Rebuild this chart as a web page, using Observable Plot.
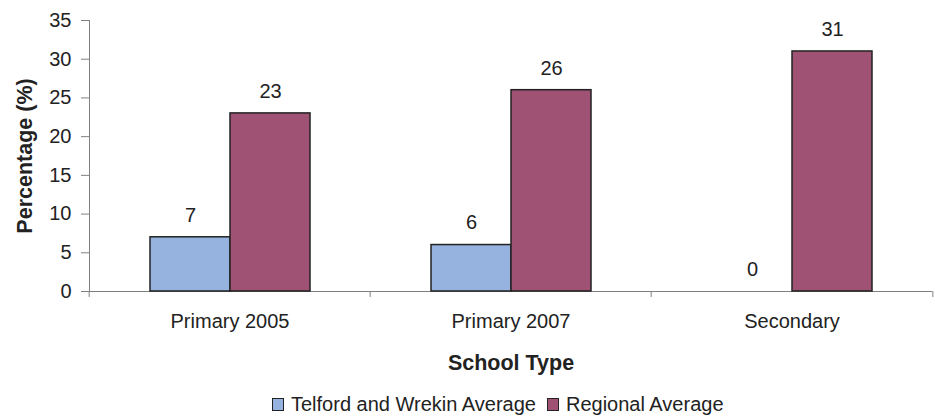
<!DOCTYPE html>
<html>
<head>
<meta charset="utf-8">
<script src="https://cdn.jsdelivr.net/npm/d3@7"></script>
<script src="https://cdn.jsdelivr.net/npm/@observablehq/plot@0.6"></script>
<style>
  html, body { margin: 0; padding: 0; background: #fff; }
  body { width: 935px; height: 416px; overflow: hidden; font-family: "Liberation Sans", Arial, sans-serif; color: #222; }
  #legend { display: flex; align-items: center; height: 23px; padding-left: 272px; font-size: 20px; line-height: 23px; }
  #legend .item { display: flex; align-items: center; margin-right: 11px; }
  #legend .sw { width: 10px; height: 11px; border: 1.5px solid #222; margin-right: 7px; }
</style>
</head>
<body>
<div id="chart"></div>
<div id="legend"></div>
<script>
const categories = ["Primary 2005", "Primary 2007", "Secondary"];
const seriesNames = ["Telford and Wrekin Average", "Regional Average"];
const telford = [7, 6, 0];
const regional = [23, 26, 31];
const yTicks = [0, 5, 10, 15, 20, 25, 30, 35];
const colors = ["#95B3DE", "#A05275"];

const data = categories.flatMap((c, i) => [
  {category: c, series: seriesNames[0], value: telford[i]},
  {category: c, series: seriesNames[1], value: regional[i]}
]);

const W = 935, H = 393, ML = 88, MR = 2, MT = 20, MB = 102;
const bw = (W - ML - MR) / categories.length;

const plot = Plot.plot({
  width: W, height: H,
  marginLeft: ML, marginRight: MR, marginTop: MT, marginBottom: MB,
  style: {fontFamily: "Liberation Sans, Arial, sans-serif", fontSize: "20px", color: "#222", background: "#fff"},
  fx: {domain: categories, padding: 0, label: null},
  x: {domain: seriesNames, paddingInner: 0, paddingOuter: 0.74, axis: null},
  y: {domain: [0, 35], label: null},
  color: {domain: seriesNames, range: colors},
  marks: [
    Plot.frame({anchor: "left", stroke: "#808080", facetAnchor: "left"}),
    Plot.ruleY([0], {stroke: "#808080"}),
    Plot.barY(data.filter(d => d.value > 0), {fx: "category", x: "series", y: "value", fill: "series", stroke: "#222", strokeWidth: 1.5}),
    Plot.text(data, {fx: "category", x: "series", y: "value", text: d => String(d.value), dy: -22, fontSize: 20, fill: "#222"}),
    Plot.axisY({ticks: yTicks, tickSize: 8, tickPadding: 10, stroke: "#808080", fill: "#222", fontSize: 20,
      label: "Percentage (%)", labelAnchor: "center", labelArrow: false, labelOffset: 73}),
    Plot.axisFx({anchor: "bottom", tickSize: 6, text: null, dx: -bw / 2, stroke: "#808080", label: null}),
    Plot.axisFx({anchor: "bottom", ticks: [categories[categories.length - 1]], tickSize: 6, text: null, dx: bw / 2, stroke: "#808080", label: null}),
    Plot.axisFx({anchor: "bottom", tickSize: 0, tickPadding: 22, fill: "#222", fontSize: 20, label: "School Type", labelAnchor: "center", labelArrow: false, labelOffset: 78})
  ]
});
document.getElementById("chart").appendChild(plot);

// axis titles are bold
d3.select(plot).selectAll("text").each(function() {
  const t = d3.select(this).text();
  if (t === "Percentage (%)" || t === "School Type") d3.select(this).attr("font-weight", "bold").attr("font-size", "21.5px");
});

const legend = d3.select("#legend");
seriesNames.forEach((s, i) => {
  const it = legend.append("div").attr("class", "item");
  it.append("div").attr("class", "sw").style("background", colors[i]);
  it.append("span").text(s);
});
</script>
</body>
</html>
